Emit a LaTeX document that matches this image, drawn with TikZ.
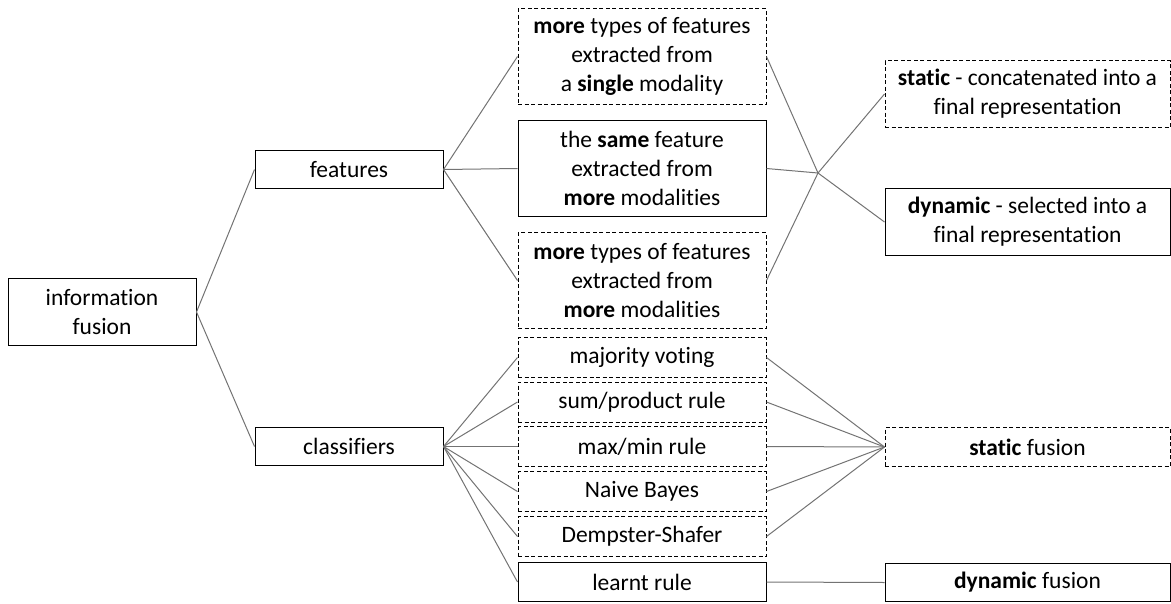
\documentclass[tikz,border=0pt]{standalone}
\usepackage{fontspec}
\setmainfont{Carlito}[Ligatures=NoCommon]
\begin{document}
\begin{tikzpicture}[x=1pt,y=-1pt,
  box/.style={draw=black, line width=1pt, inner sep=0pt, align=center,
    font=\fontsize{23.5}{29}\selectfont},
  dbox/.style={box, dash pattern=on 4pt off 2.5pt},
  link/.style={draw=black!55, line width=1pt}]
\useasboundingbox (0,0) rectangle (1171,603);

% root and first level
\node[box, minimum width=188pt, minimum height=67pt] (info) at (102,312) {information\\fusion};
\node[box, minimum width=188pt, minimum height=38pt] (feat) at (349,169.5) {features};
\node[box, minimum width=188pt, minimum height=38pt] (clas) at (349,446.5) {classifiers};

% feature-level fusion variants
\node[dbox, minimum width=248pt, minimum height=96pt] (f1) at (642,56.5)
  {\textbf{more} types of features\\extracted from\\a \textbf{single} modality};
\node[box, minimum width=248pt, minimum height=96pt] (f2) at (642,168.5)
  {the \textbf{same} feature\\extracted from\\\textbf{more} modalities};
\node[dbox, minimum width=248pt, minimum height=96pt] (f3) at (642,280.5)
  {\textbf{more} types of features\\extracted from\\\textbf{more} modalities};

% classifier combination rules
\node[dbox, minimum width=248pt, minimum height=40pt] (c1) at (642,357.5) {majority voting};
\node[dbox, minimum width=248pt, minimum height=40pt] (c2) at (642,402) {sum/product rule};
\node[dbox, minimum width=248pt, minimum height=40pt] (c3) at (642,446.5) {max/min rule};
\node[dbox, minimum width=248pt, minimum height=40pt] (c4) at (642,491.5) {Naive Bayes};
\node[dbox, minimum width=248pt, minimum height=40pt] (c5) at (642,536.5) {Dempster-Shafer};
\node[box, minimum width=248pt, minimum height=39pt] (c6) at (642,582) {learnt rule};

% outcomes
\node[dbox, minimum width=285pt, minimum height=67pt] (st) at (1027.5,94)
  {\textbf{static} - concatenated into a\\final representation};
\node[box, minimum width=285pt, minimum height=67pt] (dy) at (1027.5,222)
  {\textbf{dynamic} - selected into a\\final representation};
\node[dbox, minimum width=285pt, minimum height=39pt] (sf) at (1027.5,447) {\textbf{static} fusion};
\node[box, minimum width=285pt, minimum height=38pt] (df) at (1027.5,582.5) {\textbf{dynamic} fusion};

\coordinate (j) at (818,173);

% connectors
\draw[link] (info.east) -- (feat.west);
\draw[link] (info.east) -- (clas.west);
\foreach \n in {f1,f2,f3} {
  \draw[link] (feat.east) -- (\n.west);
  \draw[link] (\n.east) -- (j);
}
\draw[link] (j) -- (st.west);
\draw[link] (j) -- (dy.west);
\foreach \n in {c1,c2,c3,c4,c5,c6}
  \draw[link] (clas.east) -- (\n.west);
\foreach \n in {c1,c2,c3,c4,c5}
  \draw[link] (\n.east) -- (sf.west);
\draw[link] (c6.east) -- (df.west);
\end{tikzpicture}
\end{document}
